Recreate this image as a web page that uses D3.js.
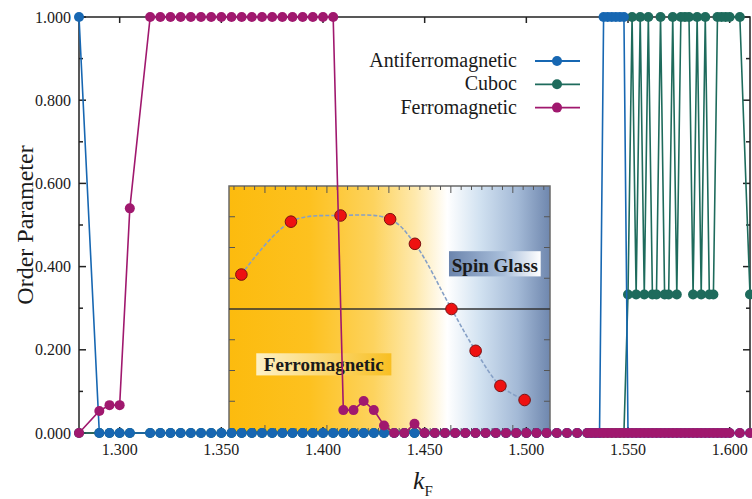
<!DOCTYPE html>
<html>
<head>
<meta charset="utf-8">
<script src="https://cdn.jsdelivr.net/npm/d3@7"></script>
<style>
  body { margin: 0; background: #fff; }
  svg { display: block; }
  text { font-family: "Liberation Serif", "Times New Roman", serif; fill: #1a1a1a; }
</style>
</head>
<body>
<div id="chart"></div>
<script>
// k_F grid (coarse steps, then a finer scan near the cuboc region)
const kValues = [
  1.280, 1.290, 1.295, 1.300, 1.305,
  1.315, 1.320, 1.325, 1.330, 1.335, 1.340, 1.345, 1.350, 1.355, 1.360,
  1.365, 1.370, 1.375, 1.380, 1.385, 1.390, 1.395, 1.400, 1.405, 1.410,
  1.415, 1.420, 1.425, 1.430, 1.435, 1.440, 1.445, 1.450, 1.455, 1.460,
  1.465, 1.470, 1.475, 1.480, 1.485, 1.490, 1.495, 1.500, 1.505, 1.510,
  1.515, 1.520, 1.525,
  1.530, 1.532, 1.534, 1.536, 1.538, 1.540, 1.542, 1.544, 1.546, 1.548,
  1.550, 1.552, 1.554, 1.556, 1.558, 1.560, 1.562, 1.564, 1.566, 1.568,
  1.570, 1.572, 1.574, 1.576, 1.578, 1.580, 1.582, 1.584, 1.586, 1.588,
  1.590, 1.592, 1.594, 1.596, 1.598, 1.600, 1.605, 1.610
];

const antiferro = [
  1, 0, 0, 0, 0,
  0, 0, 0, 0, 0, 0, 0, 0, 0, 0,
  0, 0, 0, 0, 0, 0, 0, 0, 0, 0,
  0, 0, 0, 0, 0, 0, 0, 0, 0, 0,
  0, 0, 0, 0, 0, 0, 0, 0, 0, 0,
  0, 0, 0,
  0, 0, 0, 0, 1, 1, 1, 1, 1, 1,
  0, 0, 0, 0, 0, 0, 0, 0, 0, 0,
  0, 0, 0, 0, 0, 0, 0, 0, 0, 0,
  0, 0, 0, 0, 0, 0, 0, 0
];

const cuboc = [
  0, 0, 0, 0, 0,
  0, 0, 0, 0, 0, 0, 0, 0, 0, 0,
  0, 0, 0, 0, 0, 0, 0, 0, 0, 0,
  0, 0, 0, 0, 0, 0, 0, 0, 0, 0,
  0, 0, 0, 0, 0, 0, 0, 0, 0, 0,
  0, 0, 0,
  0, 0, 0, 0, 0, 0, 0, 0, 0, 0,
  0.333, 1, 0.333, 1, 0.333, 1, 0.333, 0.333, 1, 0.333,
  0.333, 1, 0.333, 1, 1, 1, 0.333, 1, 0.333, 1,
  0.333, 0.333, 1, 1, 1, 1, 1, 0.333
];

const ferro = [
  0, 0.053, 0.067, 0.067, 0.54,
  1, 1, 1, 1, 1, 1, 1, 1, 1, 1,
  1, 1, 1, 1, 1, 1, 1, 1, 1, 0.055,
  0.055, 0.077, 0.055, 0.018, 0, 0, 0.022, 0, 0, 0,
  0, 0, 0, 0, 0, 0, 0, 0, 0, 0,
  0, 0, 0,
  0, 0, 0, 0, 0, 0, 0, 0, 0, 0,
  0, 0, 0, 0, 0, 0, 0, 0, 0, 0,
  0, 0, 0, 0, 0, 0, 0, 0, 0, 0,
  0, 0, 0, 0, 0, 0, 0, 0
];

const seriesNames = ["Antiferromagnetic", "Cuboc", "Ferromagnetic"];
const seriesColors = ["#1767b2", "#1e6b5c", "#a0186e"];
const drawOrder = [1, 0, 2]; // cuboc underneath, ferro on top

const xTicks = [1.30, 1.35, 1.40, 1.45, 1.50, 1.55, 1.60];
const yTicks = [0, 0.2, 0.4, 0.6, 0.8, 1.0];
const yMinorTicks = [0.1, 0.3, 0.5, 0.7, 0.9];

// inset (phase diagram picture) values in its own units
const insetPx = [0.62, 1.42, 2.22, 3.02, 3.42, 4.01, 4.40, 4.80, 5.19];
const insetPy = [0.28, 0.71, 0.76, 0.73, 0.53, 0.00, -0.34, -0.625, -0.74];

function drawChart() {
  const container = d3.select("#chart");
  container.selectAll("*").remove();

  const width = 752;
  const height = 499;
  const margin = { top: 17, right: 2, bottom: 66, left: 79 };

  const svg = container.append("svg")
    .attr("width", width)
    .attr("height", height);

  const x = d3.scaleLinear()
    .domain([1.28, 1.61])
    .range([margin.left, width - margin.right]);

  const y = d3.scaleLinear()
    .domain([0, 1])
    .range([height - margin.bottom, margin.top]);

  drawInset(svg);

  // axes frame
  const frame = svg.append("g").attr("stroke", "#222").attr("stroke-width", 1.5);
  frame.append("rect")
    .attr("x", x.range()[0]).attr("y", y.range()[1])
    .attr("width", x.range()[1] - x.range()[0])
    .attr("height", y.range()[0] - y.range()[1])
    .attr("fill", "none");

  // inward ticks
  xTicks.forEach(t => {
    frame.append("line").attr("x1", x(t)).attr("x2", x(t))
      .attr("y1", y(0)).attr("y2", y(0) - 6);
    frame.append("line").attr("x1", x(t)).attr("x2", x(t))
      .attr("y1", y(1)).attr("y2", y(1) + 6);
  });
  yTicks.concat(yMinorTicks).forEach(t => {
    const len = yTicks.includes(t) ? 7 : 4;
    frame.append("line").attr("x1", x(1.28)).attr("x2", x(1.28) + len)
      .attr("y1", y(t)).attr("y2", y(t));
    frame.append("line").attr("x1", x(1.61)).attr("x2", x(1.61) - len)
      .attr("y1", y(t)).attr("y2", y(t));
  });

  // tick labels
  svg.append("g").selectAll("text")
    .data(xTicks).join("text")
    .attr("x", d => x(d)).attr("y", y(0) + 22)
    .attr("text-anchor", "middle")
    .attr("font-size", 16)
    .text(d3.format(".3f"));

  svg.append("g").selectAll("text")
    .data(yTicks).join("text")
    .attr("x", margin.left - 8).attr("y", d => y(d))
    .attr("dy", "0.35em")
    .attr("text-anchor", "end")
    .attr("font-size", 16)
    .text(d3.format(".3f"));

  // axis titles
  svg.append("text")
    .attr("transform", `translate(33,${(y(0) + y(1)) / 2}) rotate(-90)`)
    .attr("text-anchor", "middle")
    .attr("font-size", 24)
    .text("Order Parameter");

  const xt = svg.append("text")
    .attr("x", 413).attr("y", 489)
    .attr("font-size", 26);
  xt.append("tspan").attr("font-style", "italic").text("k");
  xt.append("tspan").attr("font-size", 15).attr("dy", 7).text("F");

  // series
  const seriesValues = [antiferro, cuboc, ferro];
  drawOrder.forEach(i => {
    const vals = seriesValues[i];
    const data = kValues.map((k, j) => ({ k: k, v: vals[j] }));
    const line = d3.line().x(d => x(d.k)).y(d => y(d.v));
    const g = svg.append("g");
    g.append("path")
      .datum(data)
      .attr("fill", "none")
      .attr("stroke", seriesColors[i])
      .attr("stroke-width", 1.6)
      .attr("d", line);
    g.selectAll("circle")
      .data(data).join("circle")
      .attr("cx", d => x(d.k)).attr("cy", d => y(d.v))
      .attr("r", 5)
      .attr("fill", seriesColors[i]);
  });

  // legend
  const legend = svg.append("g");
  seriesNames.forEach((name, i) => {
    const ly = 61 + i * 23.3;
    legend.append("text")
      .attr("x", 517).attr("y", ly + 6)
      .attr("text-anchor", "end")
      .attr("font-size", 20)
      .text(name);
    legend.append("line")
      .attr("x1", 535).attr("x2", 580)
      .attr("y1", ly).attr("y2", ly)
      .attr("stroke", seriesColors[i]).attr("stroke-width", 1.8);
    legend.append("circle")
      .attr("cx", 557).attr("cy", ly).attr("r", 5)
      .attr("fill", seriesColors[i]);
  });
}

function drawInset(svg) {
  const box = { x0: 229, x1: 550, y0: 186, y1: 432 };
  const ix = d3.scaleLinear().domain([0.42, 5.6]).range([box.x0, box.x1]);
  const iy = d3.scaleLinear().domain([-1, 1]).range([box.y1, box.y0]);

  const defs = svg.append("defs");
  const bg = defs.append("linearGradient").attr("id", "insetBg");
  [[0, "#fcbb0e"], [0.25, "#fdc11f"], [0.45, "#fdd35e"], [0.58, "#fee9ad"],
   [0.68, "#ffffff"], [0.78, "#d2e2f1"], [0.9, "#a3b9d6"], [1, "#6f87ae"]]
    .forEach(s => bg.append("stop").attr("offset", s[0]).attr("stop-color", s[1]));

  const sg = defs.append("linearGradient").attr("id", "sgBox");
  sg.append("stop").attr("offset", 0).attr("stop-color", "#6c85ad");
  sg.append("stop").attr("offset", 0.6).attr("stop-color", "#a9bfdb");
  sg.append("stop").attr("offset", 1).attr("stop-color", "#ffffff");

  const fmBox = defs.append("linearGradient").attr("id", "fmBox");
  fmBox.append("stop").attr("offset", 0).attr("stop-color", "#fdf1c6");
  fmBox.append("stop").attr("offset", 1).attr("stop-color", "#f8bf22");

  const g = svg.append("g");
  g.append("rect")
    .attr("x", box.x0).attr("y", box.y0)
    .attr("width", box.x1 - box.x0).attr("height", box.y1 - box.y0)
    .attr("fill", "url(#insetBg)")
    .attr("stroke", "#6a6a6a").attr("stroke-width", 1.5);

  // inset ticks
  const tk = g.append("g").attr("stroke", "#555").attr("stroke-width", 1);
  d3.range(0.5, 5.55, 1 / 6).forEach(t => {
    const major = Math.abs(t - Math.round(t)) < 0.01;
    const len = major ? 7 : 4;
    tk.append("line").attr("x1", ix(t)).attr("x2", ix(t))
      .attr("y1", box.y0).attr("y2", box.y0 + len);
    tk.append("line").attr("x1", ix(t)).attr("x2", ix(t))
      .attr("y1", box.y1).attr("y2", box.y1 - len);
  });
  [-0.75, -0.5, -0.25, 0.25, 0.5, 0.75].forEach(t => {
    tk.append("line").attr("x1", box.x0).attr("x2", box.x0 + 6)
      .attr("y1", iy(t)).attr("y2", iy(t));
    tk.append("line").attr("x1", box.x1).attr("x2", box.x1 - 6)
      .attr("y1", iy(t)).attr("y2", iy(t));
  });

  g.append("line")
    .attr("x1", box.x0).attr("x2", box.x1)
    .attr("y1", iy(0)).attr("y2", iy(0))
    .attr("stroke", "#333").attr("stroke-width", 1.3);

  // phase labels
  g.append("rect")
    .attr("x", ix(3.97)).attr("y", iy(0.47))
    .attr("width", ix(5.45) - ix(3.97)).attr("height", iy(0.265) - iy(0.47))
    .attr("fill", "url(#sgBox)");
  g.append("text")
    .attr("x", (ix(3.97) + ix(5.45)) / 2).attr("y", iy(0.3))
    .attr("text-anchor", "middle")
    .attr("font-size", 19).attr("font-weight", "bold")
    .attr("fill", "#2a2a2a")
    .text("Spin Glass");

  g.append("rect")
    .attr("x", ix(0.86)).attr("y", iy(-0.36))
    .attr("width", ix(3.04) - ix(0.86)).attr("height", iy(-0.54) - iy(-0.36))
    .attr("fill", "url(#fmBox)");
  g.append("text")
    .attr("x", (ix(0.86) + ix(3.04)) / 2).attr("y", iy(-0.505))
    .attr("text-anchor", "middle")
    .attr("font-size", 19).attr("font-weight", "bold")
    .attr("fill", "#2a2a2a")
    .text("Ferromagnetic");

  const pts = insetPx.map((p, i) => ({ p: p, q: insetPy[i] }));
  g.append("path")
    .datum(pts)
    .attr("fill", "none")
    .attr("stroke", "#86a0c6")
    .attr("stroke-width", 1.6)
    .attr("stroke-dasharray", "4,2")
    .attr("d", d3.line().x(d => ix(d.p)).y(d => iy(d.q)).curve(d3.curveCatmullRom.alpha(0.5)));

  g.selectAll("circle")
    .data(pts).join("circle")
    .attr("cx", d => ix(d.p)).attr("cy", d => iy(d.q))
    .attr("r", 5.8)
    .attr("fill", "#ee1111")
    .attr("stroke", "#7a1010").attr("stroke-width", 1);
}

drawChart();
</script>
</body>
</html>
